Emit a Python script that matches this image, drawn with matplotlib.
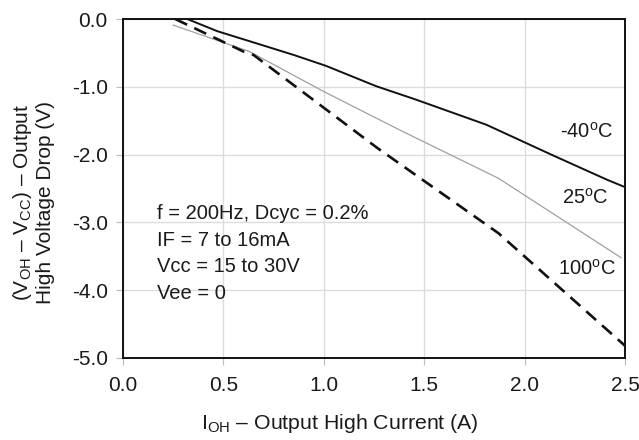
import numpy as np
import matplotlib
matplotlib.use('Agg')
from matplotlib import pyplot as plt

plt.rcParams['font.family'] = ['Liberation Sans', 'DejaVu Sans']
plt.rcParams['mathtext.fontset'] = 'custom'
plt.rcParams['mathtext.rm'] = 'Liberation Sans'
plt.rcParams['mathtext.it'] = 'Liberation Sans:italic'

# -40C curve
i_m40 = [0.32, 0.47, 0.72, 0.85, 1.01, 1.26, 1.46, 1.81, 2.14, 2.41, 2.50]
v_m40 = [0.0, -0.18, -0.41, -0.53, -0.69, -0.99, -1.19, -1.56, -2.01, -2.37, -2.48]
# 25C curve
i_25 = [0.25, 0.63, 1.00, 1.38, 1.87, 2.48]
v_25 = [-0.09, -0.48, -1.07, -1.64, -2.35, -3.52]
# 100C curve
i_100 = [0.26, 0.60, 0.65, 1.27, 1.87, 2.50]
v_100 = [0.0, -0.48, -0.53, -1.91, -3.16, -4.82]

labels = ['-40$^{\\rm o}$C', '25$^{\\rm o}$C', '100$^{\\rm o}$C']
label_x = [2.31, 2.30, 2.31]
label_y = [-1.66, -2.64, -3.69]

xticks = [0.0, 0.5, 1.0, 1.5, 2.0, 2.5]
yticks = [0.0, -1.0, -2.0, -3.0, -4.0, -5.0]

fig = plt.figure(figsize=(6.39, 4.40), dpi=100)
ax = fig.add_axes([0.1925, 0.1864, 0.7856, 0.7704])

ax.plot(i_m40, v_m40, color='#111111', lw=1.4)
ax.plot(i_25, v_25, color='#a0a0a0', lw=0.9)
ax.plot(i_100, v_100, color='#111111', lw=1.9, dashes=(5, 3))

for t, x, y in zip(labels, label_x, label_y):
    ax.text(x, y, t, ha='center', va='center', fontsize=14.5, color='#1a1a1a')

ax.text(0.17, -2.73, 'f = 200Hz, Dcyc = 0.2%\nIF = 7 to 16mA\nVcc = 15 to 30V\nVee = 0',
        ha='left', va='top', fontsize=14.5, linespacing=1.5, color='#1a1a1a')

ax.set_xlim(0, 2.5)
ax.set_ylim(-5.0, 0.0)
ax.set_xticks(xticks)
ax.set_yticks(yticks)
ax.set_xticklabels(['%.1f' % v for v in xticks])
ax.set_yticklabels(['%.1f' % v for v in yticks])
ax.grid(True, color='#dcdcdc', lw=1.0)
ax.tick_params(length=5, color='#bbbbbb', labelsize=15, labelcolor='#1a1a1a', pad=6)
ax.tick_params(axis='x', pad=8)
for s in ax.spines.values():
    s.set_color('#111111')
    s.set_linewidth(1.4)

ax.set_xlabel('I$_{\\rm OH}$ – Output High Current (A)', fontsize=15.3, color='#1a1a1a', labelpad=12)
ax.xaxis.label.set_x(0.432)
ax.set_ylabel('(V$_{\\rm OH}$ – V$_{\\rm CC}$) – Output\nHigh Voltage Drop (V)', fontsize=15,
              color='#1a1a1a', linespacing=1.1)
ax.yaxis.set_label_coords(-0.136, 0.46)

plt.savefig('out.png', dpi=100)
